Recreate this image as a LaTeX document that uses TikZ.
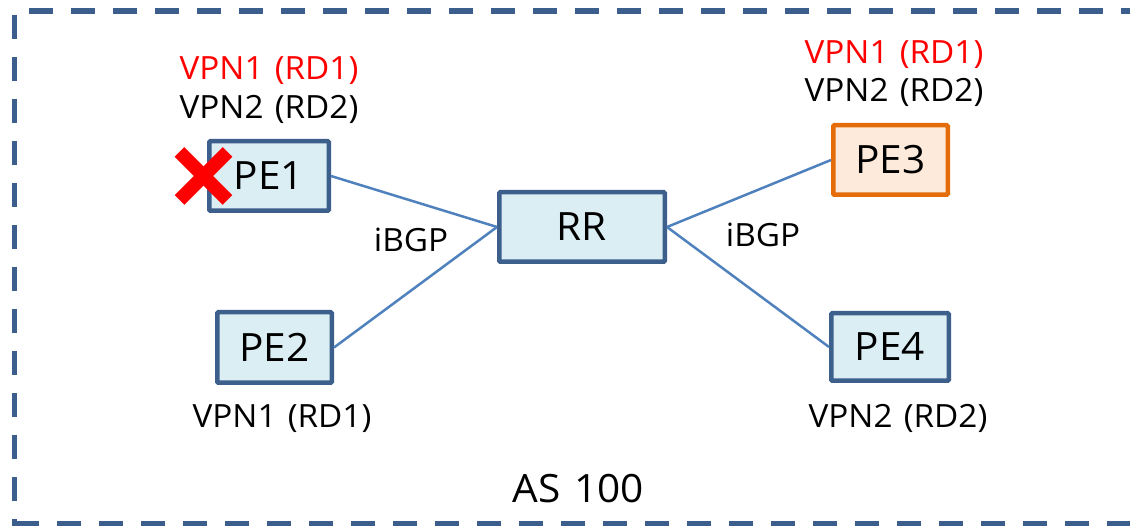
\documentclass[tikz,border=0pt]{standalone}
\usepackage{fontspec}
\setmainfont{Open Sans}[WordSpace=1.3,FakeStretch=1.04]
\definecolor{frameblue}{HTML}{3B5E8C}
\definecolor{boxblue}{HTML}{3D5F8C}
\definecolor{boxfill}{HTML}{DBEEF4}
\definecolor{linkblue}{HTML}{4F81BD}
\definecolor{pethree}{HTML}{E46C0A}
\definecolor{pethreefill}{HTML}{FDEADA}
\begin{document}
\begin{tikzpicture}[x=1pt,y=-1pt,
  frame/.style={draw=frameblue,line width=5.5pt,dash pattern=on 24pt off 18pt},
  router/.style={draw=boxblue,fill=boxfill,line width=4.5pt,rounded corners=1pt,
    inner sep=0pt,font=\fontsize{39}{44}\selectfont},
  hot/.style={router,draw=pethree,fill=pethreefill},
  link/.style={draw=linkblue,line width=2.5pt},
  lbl/.style={anchor=base,inner sep=0pt,font=\fontsize{32}{36}\selectfont},
  big/.style={anchor=base,inner sep=0pt,font=\fontsize{39}{44}\selectfont}]
\useasboundingbox (0,0) rectangle (1130,526);

% dashed AS boundary
\draw[frame] (29,11) -- (1150,11);
\draw[frame] (14.5,15) -- (14.5,540);
\draw[frame] (15,523.5) -- (1150,523.5);

% routers
\node[router,minimum width=119.5pt,minimum height=69.5pt] (pe1) at (269,176) {PE1};
\node[router,minimum width=114.5pt,minimum height=70.5pt] (pe2) at (274.5,347.5) {PE2};
\node[hot,minimum width=114.5pt,minimum height=69.5pt] (pe3) at (890.5,160) {PE3};
\node[router,minimum width=117.5pt,minimum height=67.5pt] (pe4) at (890,347) {PE4};
\node[router,minimum width=165.5pt,minimum height=69.5pt] (rr) at (582,227) {RR};

% iBGP sessions
\draw[link] (pe1.east) -- (rr.west);
\draw[link] (pe2.east) -- (rr.west);
\draw[link] (rr.east) -- (pe3.west);
\draw[link] (rr.east) -- (pe4.west);

% failure mark on PE1
\coordinate (fail) at (203.5,176);
\draw[red,line width=13.5pt] ([shift={(-24,-24)}]fail) -- ([shift={(24,24)}]fail);
\draw[red,line width=13.5pt] ([shift={(24,-24)}]fail) -- ([shift={(-24,24)}]fail);

% VPN labels
\node[lbl,text=red] (pe1a) at (269,80) {VPN1 (RD1)};
\node[lbl] (pe1b) at (269,119) {VPN2 (RD2)};
\node[lbl,text=red] (pe3a) at (894,64) {VPN1 (RD1)};
\node[lbl] (pe3b) at (894,102) {VPN2 (RD2)};
\node[lbl] (pe2a) at (282,428) {VPN1 (RD1)};
\node[lbl] (pe4a) at (898,428) {VPN2 (RD2)};

% session labels
\node[lbl] (ibgpl) at (411,252) {iBGP};
\node[lbl] (ibgpr) at (763,247) {iBGP};

% AS name
\node[big] (as) at (578,502) {AS 100};
\end{tikzpicture}
\end{document}
